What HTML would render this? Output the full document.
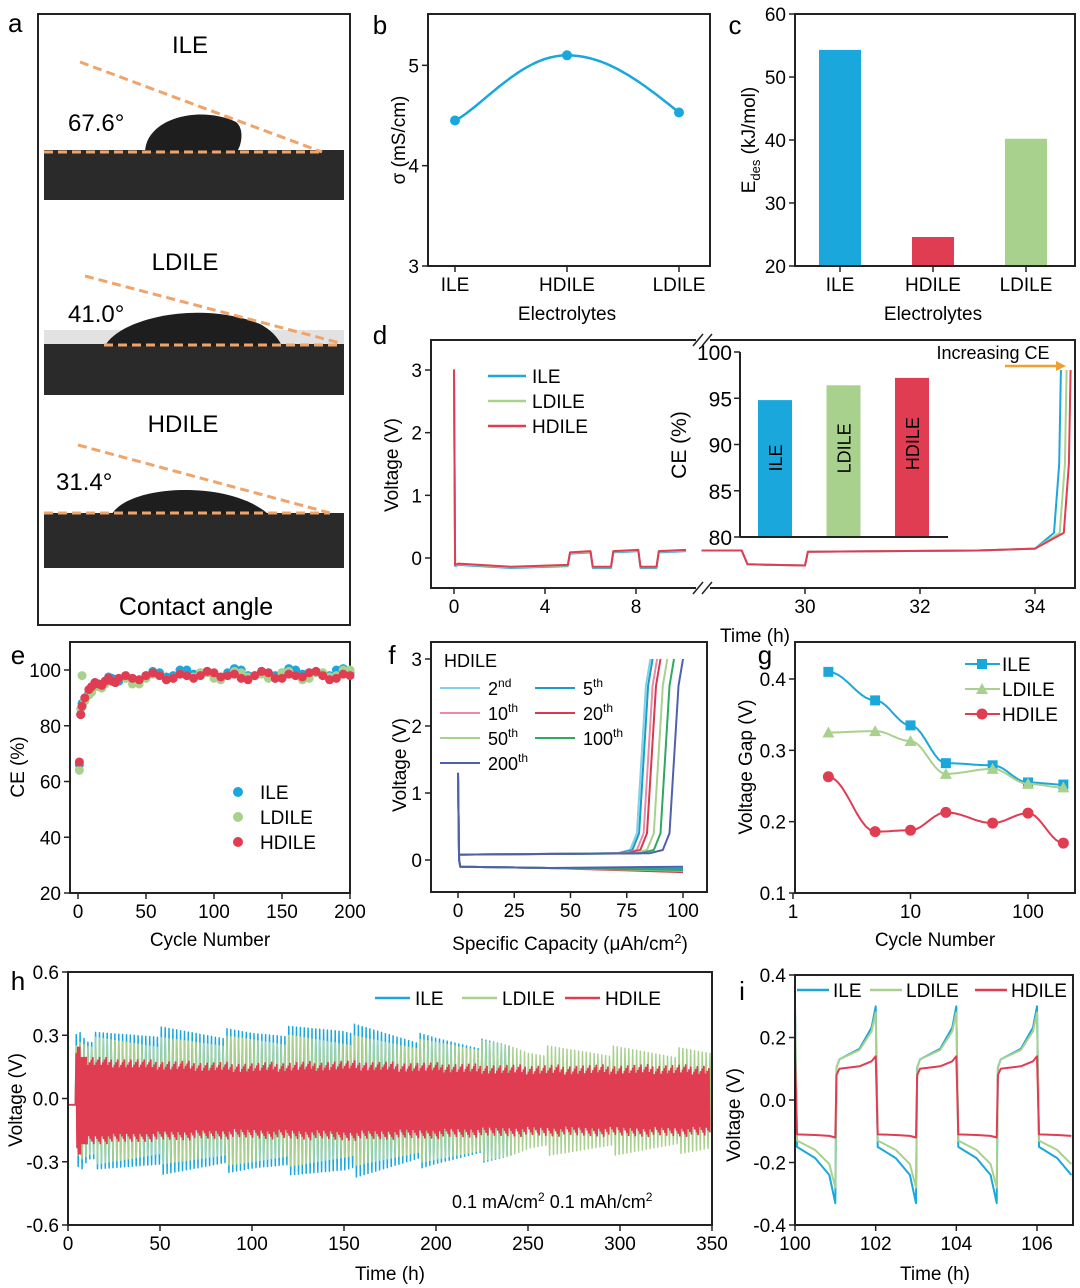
<!DOCTYPE html>
<html><head><meta charset="utf-8"><style>
html,body{margin:0;padding:0;background:#fff}
svg{display:block;font-family:"Liberation Sans",Arial,sans-serif}
</style></head><body>
<svg id="fig" width="1080" height="1288" viewBox="0 0 1080 1288" xmlns="http://www.w3.org/2000/svg">
<rect width="1080" height="1288" fill="#fff"/>
<g>
<text x="8" y="32" font-size="26">a</text>
<rect x="38" y="14" width="312" height="611" fill="none" stroke="#222" stroke-width="2"/>
<text x="190" y="53" font-size="24" text-anchor="middle">ILE</text>
<rect x="44" y="150" width="300" height="50" fill="#2a2a2a"/>
<path d="M145,152 C146,118 200,105 236,122 C246,130 240,150 236,152 Z" fill="#1e1e1e"/>
<line x1="44" y1="152" x2="322" y2="152" stroke="#f0a46a" stroke-width="3" stroke-dasharray="9,5"/>
<line x1="80" y1="62" x2="322" y2="152" stroke="#f0a46a" stroke-width="3" stroke-dasharray="9,5"/>
<text x="68" y="131" font-size="24">67.6°</text>
<text x="185" y="270" font-size="24" text-anchor="middle">LDILE</text>
<rect x="44" y="330" width="300" height="65" fill="#e2e2e2"/>
<rect x="44" y="344" width="300" height="51" fill="#2a2a2a"/>
<path d="M105,346 C120,318 200,300 260,324 C275,332 280,342 282,346 Z" fill="#1e1e1e"/>
<line x1="104" y1="345" x2="340" y2="345" stroke="#f0a46a" stroke-width="3" stroke-dasharray="9,5"/>
<line x1="85" y1="276" x2="340" y2="343" stroke="#f0a46a" stroke-width="3" stroke-dasharray="9,5"/>
<text x="68" y="322" font-size="24">41.0°</text>
<text x="183" y="432" font-size="24" text-anchor="middle">HDILE</text>
<rect x="44" y="513" width="300" height="55" fill="#2a2a2a"/>
<path d="M112,514 C130,484 230,480 268,514 Z" fill="#1e1e1e"/>
<line x1="44" y1="513" x2="330" y2="513" stroke="#f0a46a" stroke-width="3" stroke-dasharray="9,5"/>
<line x1="78" y1="445" x2="330" y2="513" stroke="#f0a46a" stroke-width="3" stroke-dasharray="9,5"/>
<text x="56" y="490" font-size="24">31.4°</text>
<text x="196" y="615" font-size="25" text-anchor="middle">Contact angle</text>
</g>
<g id="plots"></g>
</svg>
<script>
// ---------- data ----------
const bCats=['ILE','HDILE','LDILE'];
const bSigma=[4.45,5.1,4.53];
const cCats=['ILE','HDILE','LDILE'];
const cEdes=[54.3,24.6,40.2];
const dInsetCats=['ILE','LDILE','HDILE'];
const dInsetCE=[94.8,96.4,97.2];
const dLeftT=[0,0.05,0.2,2.5,5.0,5.1,6.0,6.1,6.9,7.0,8.1,8.2,8.9,9.0,10.2];
const dLeftV=[3.0,-0.12,-0.1,-0.15,-0.12,0.08,0.1,-0.15,-0.15,0.1,0.12,-0.15,-0.15,0.1,0.12];
const dRightT=[28.2,28.9,29.0,30.0,30.05,33.0,34.0];
const dRightV=[0.12,0.12,-0.1,-0.12,0.1,0.12,0.15];
const dRiseT=[34.45,34.55,34.62];
const eX=[1,2,3,5,8,10,15,20,25,30,40,50,60,70,80,90,100,110,120,130,140,150,160,170,180,190,200];
const eILE=[66,84,88,90,92,94,95,96,97,96,97,98,99,98,100,99,98,99,100,98,99,99,100,99,98,100,99];
const eLDILE=[64,86,98,89,91,92,94,95,96,97,95,97,98,97,98,99,97,98,99,98,97,99,98,97,99,98,100];
const eHDILE=[67,84,87,90,93,94,95,96,96,97,97,98,98,97,98,98,99,98,97,98,99,97,98,99,98,97,98];
const fLabels=['2nd','5th','10th','20th','50th','100th','200th'];
const fEndCap=[85.5,86.5,88.5,90,93,96,100];
const fDisV=[-0.14,-0.13,-0.15,-0.18,-0.16,-0.15,-0.1];
const gX=[2,5,10,20,50,100,200];
const gILE=[0.41,0.37,0.335,0.282,0.279,0.255,0.252];
const gLDILE=[0.325,0.327,0.313,0.267,0.274,0.253,0.248];
const gHDILE=[0.263,0.186,0.188,0.213,0.198,0.212,0.17];
const hT=[0,5,10,50,100,150,200,240,250,300,350];
const hILEamp=[0.02,0.34,0.28,0.31,0.3,0.33,0.27,0.24,null,null,null];
const hLDILEamp=[0.02,0.28,0.26,0.26,0.27,0.27,0.25,0.24,0.22,0.22,0.21];
const hHDILEamp=[0.02,0.24,0.17,0.15,0.14,0.15,0.14,0.13,0.13,0.13,0.13];
const iNames=['ILE','LDILE','HDILE'];
const iChgPlat=[0.13,0.13,0.1];
const iChgPeak=[0.3,0.28,0.14];
const iDisPlat=[-0.15,-0.13,-0.11];
const iDisPeak=[-0.33,-0.28,-0.12];

const COL={ILE:'#1aa7dc',LDILE:'#a9d18e',HDILE:'#e03c52'};
const NS='http://www.w3.org/2000/svg';
const root=document.getElementById('plots');
function mk(tag,attrs,name,parent){const el=document.createElementNS(NS,tag);for(const k in attrs)el.setAttribute(k,attrs[k]);


(parent||root).appendChild(el);return el;}
function txt(x,y,s,size,anchor,name,extra){const t=mk('text',Object.assign({x:x,y:y,'font-size':size,'text-anchor':anchor||'middle'},extra||{}),name);t.textContent=s;return t;}
function lin(d0,d1,r0,r1){return v=>r0+(v-d0)/(d1-d0)*(r1-r0);}
function box(x0,y0,x1,y1,name){mk('rect',{x:x0,y:y0,width:x1-x0,height:y1-y0,fill:'none',stroke:'#222','stroke-width':2},name);}
function yTicks(vals,ys,x0,name,fmt){vals.forEach(v=>{const y=ys(v);mk('line',{x1:x0,y1:y,x2:x0-6,y2:y,stroke:'#222','stroke-width':1.5},name+'-tick');txt(x0-9,y+7,fmt?fmt(v):String(v),19,'end',name+'-label');});}
function xTicks(vals,xs,y0,name,fmt,labels){vals.forEach((v,i)=>{const x=xs(v);mk('line',{x1:x,y1:y0,x2:x,y2:y0+6,stroke:'#222','stroke-width':1.5},name+'-tick');txt(x,y0+25,labels?labels[i]:(fmt?fmt(v):String(v)),19,'middle',name+'-label');});}
function poly(pts,color,w,name){return mk('polyline',{points:pts.map(p=>p[0].toFixed(1)+','+p[1].toFixed(1)).join(' '),fill:'none',stroke:color,'stroke-width':w,'stroke-linejoin':'round'},name);}
function ylab(x,y,s,name,size){txt(x,y,s,size||19,'middle',name,{transform:`rotate(-90 ${x} ${y})`});}

// ---------- b ----------
txt(380,34,'b',26,'middle','panel-label-b');
{const xs=i=>455+i*112, ys=lin(3,6,266,-35);
box(428,14,710,266,'axes-b');
yTicks([3,4,5],ys,428,'y-tick-b');
xTicks([0,1,2],xs,266,'x-tick-b',null,bCats);
txt(567,320,'Electrolytes',19,'middle','x-axis-title-b');
ylab(405,140,'σ (mS/cm)','y-axis-title-b');
const pts=[];for(let k=0;k<=40;k++){const u=k/20;const i0=Math.min(1,Math.floor(u));const f=u-i0;
const a=bSigma[i0],b=bSigma[i0+1];const m=bSigma[1];
let v;if(u<=1)v=a+(b-a)*Math.sin(f*Math.PI/2)**1.2;else v=m+(bSigma[2]-m)*(1-Math.cos(f*Math.PI/2));
pts.push([xs(u),ys(v)]);}
poly(pts,COL.ILE,2.5,'line-sigma');
bSigma.forEach((v,i)=>mk('circle',{cx:xs(i),cy:ys(v),r:5,fill:COL.ILE},'point-sigma-'+bCats[i].toLowerCase()));}

// ---------- c ----------
txt(735,34,'c',26,'middle','panel-label-c');
{const xs=i=>840+i*93, ys=lin(20,60,266,14);
cEdes.forEach((v,i)=>mk('rect',{x:xs(i)-21,y:ys(v),width:42,height:266-ys(v),fill:COL[cCats[i]]},'bar-edes-'+cCats[i].toLowerCase()));
box(795,14,1075,266,'axes-c');
yTicks([20,30,40,50,60],ys,795,'y-tick-c');
xTicks([0,1,2],xs,266,'x-tick-c',null,cCats);
txt(933,320,'Electrolytes',19,'middle','x-axis-title-c');
const t=txt(755,140,'E',19,'middle','y-axis-title-c',{transform:'rotate(-90 755 140)'});
t.innerHTML='E<tspan font-size="13" dy="5">des</tspan><tspan dy="-5"> (kJ/mol)</tspan>';}

// ---------- d ----------
txt(380,344,'d',26,'middle','panel-label-d');
{const ys=lin(0,3,558,370), xl=lin(0,4,454,545), xr=lin(30,32,805,920);
box(431,340,1075,588,'axes-d');
mk('rect',{x:696,y:334,width:14,height:12,fill:'#fff'},'axis-break-gap-top');
mk('rect',{x:696,y:582,width:14,height:12,fill:'#fff'},'axis-break-gap');
[[693,346,703,334],[702,346,712,334],[693,594,703,582],[702,594,712,582]].forEach(c=>mk('line',{x1:c[0],y1:c[1],x2:c[2],y2:c[3],stroke:'#222','stroke-width':1.5},'axis-break-mark'));
yTicks([0,1,2,3],ys,431,'y-tick-d');
xTicks([0,4,8],xl,588,'x-tick-d');
xTicks([30,32,34],xr,588,'x-tick-d');
txt(755,642,'Time (h)',19,'middle','x-axis-title-d');
ylab(398,465,'Voltage (V)','y-axis-title-d');
const names=['ILE','LDILE','HDILE'];
names.forEach((n,s)=>{const L=dLeftT.map((t,i)=>[xl(t),ys(dLeftV[i]+ (s-1)*0.01)]);poly(L,COL[n],2,'voltage-left-'+n.toLowerCase());
const R=dRightT.map((t,i)=>[xr(t),ys(dRightV[i])]);R.push([xr(dRiseT[s]-0.12),ys(0.4)]);R.push([xr(dRiseT[s]-0.03),ys(1.5)]);R.push([xr(dRiseT[s]),ys(3)]);
poly(R,COL[n],2,'voltage-right-'+n.toLowerCase());});
names.forEach((n,s)=>{const y=376+s*25;mk('line',{x1:488,y1:y,x2:526,y2:y,stroke:COL[n],'stroke-width':2.5},'legend-line-d-'+n.toLowerCase());txt(532,y+7,n,19,'start','legend-label-d-'+n.toLowerCase());});
const yi=lin(80,100,537,352), xi=i=>775+i*68.5;
mk('rect',{x:742,y:345,width:212,height:194,fill:'#fff'},'inset-bg');
dInsetCE.forEach((v,i)=>{mk('rect',{x:xi(i)-17,y:yi(v),width:34,height:537-yi(v),fill:COL[dInsetCats[i]]},'inset-bar-'+dInsetCats[i].toLowerCase());
ylab(xi(i)+7,yi(v)+(537-yi(v))*0.35+10,dInsetCats[i],'inset-bar-label-'+dInsetCats[i].toLowerCase(),18);});
mk('line',{x1:740,y1:352,x2:740,y2:537,stroke:'#222','stroke-width':2},'inset-y-axis');
mk('line',{x1:740,y1:537,x2:948,y2:537,stroke:'#222','stroke-width':2},'inset-x-axis');
[80,85,90,95,100].forEach(v=>{mk('line',{x1:740,y1:yi(v),x2:734,y2:yi(v),stroke:'#222','stroke-width':1.5},'inset-y-tick');txt(732,yi(v)+8,String(v),21,'end','inset-y-tick-label');});
ylab(686,445,'CE (%)','inset-y-axis-title',21);
txt(993,359,'Increasing CE',18,'middle','annotation-increasing-ce');
mk('line',{x1:1005,y1:366,x2:1058,y2:366,stroke:'#f0a030','stroke-width':2.5},'annotation-arrow');
mk('path',{d:'M1056,361 L1066,366 L1056,371 Z',fill:'#f0a030'},'annotation-arrowhead');}

// ---------- e ----------
txt(18,664,'e',26,'middle','panel-label-e');
{const xs=lin(0,200,78,350), ys=lin(20,100,893,670);
box(70,642,350,893,'axes-e');
yTicks([20,40,60,80,100],ys,70,'y-tick-e');
xTicks([0,50,100,150,200],xs,893,'x-tick-e');
txt(210,946,'Cycle Number',19,'middle','x-axis-title-e');
ylab(24,767,'CE (%)','y-axis-title-e');
const sers=[['ILE',eILE],['LDILE',eLDILE],['HDILE',eHDILE]];
sers.forEach(([n,arr])=>{eX.forEach((x,i)=>{mk('circle',{cx:xs(x),cy:ys(arr[i]),r:4.5,fill:COL[n]},'ce-point-'+n.toLowerCase());
if(i>4&&i<eX.length-1){const x2=(x+eX[i+1])/2;mk('circle',{cx:xs(x2),cy:ys((arr[i]+arr[i+1])/2+ (i%2?1:-1)),r:4.5,fill:COL[n]},'ce-point-'+n.toLowerCase());}});});
sers.forEach(([n],s)=>{const y=792+s*25;mk('circle',{cx:238,cy:y,r:5,fill:COL[n]},'legend-marker-e-'+n.toLowerCase());txt(260,y+7,n,19,'start','legend-label-e-'+n.toLowerCase());});}

// ---------- f ----------
txt(392,664,'f',26,'middle','panel-label-f');
{const xs=lin(0,100,458,683), ys=lin(0,3,860,659);
const fc=['#7fd0e8','#1a9cc8','#e88aa8','#d63a4e','#a9d18e','#2fa860','#5060b0'];
box(431,642,707,892,'axes-f');
yTicks([0,1,2,3],ys,431,'y-tick-f');
xTicks([0,25,50,75,100],xs,892,'x-tick-f');
const xt=txt(570,950,'',19,'middle','x-axis-title-f');xt.innerHTML='Specific Capacity (μAh/cm<tspan font-size="13" dy="-7">2</tspan><tspan dy="7">)</tspan>';
ylab(406,765,'Voltage (V)','y-axis-title-f');
fEndCap.forEach((c,i)=>{poly([[xs(0),ys(1.3)],[xs(0.5),ys(0)],[xs(1),ys(-0.1)],[xs(40),ys(-0.12)],[xs(100),ys(fDisV[i])]],fc[i],2,'discharge-curve-'+fLabels[i]);
poly([[xs(0.5),ys(0.08)],[xs(c-15),ys(0.1)],[xs(c-9),ys(0.15)],[xs(c-6),ys(0.4)],[xs(c-4),ys(1.5)],[xs(c-2),ys(2.6)],[xs(c),ys(3)]],fc[i],2,'charge-curve-'+fLabels[i]);});
txt(444,667,'HDILE',18,'start','legend-title-f');
fLabels.forEach((l,i)=>{const col=i%2,row=Math.floor(i/2);const x=440+col*95,y=688+row*25;
mk('line',{x1:x,y1:y,x2:x+40,y2:y,stroke:fc[i],'stroke-width':2},'legend-line-f-'+l);
const t=txt(x+48,y+7,'',18,'start','legend-label-f-'+l);t.innerHTML=l.replace(/(\d+)(\w+)/,'$1<tspan font-size="12" dy="-8">$2</tspan>');});}

// ---------- g ----------
txt(765,664,'g',26,'middle','panel-label-g');
{const xs=v=>793+Math.log10(v)*117.5, ys=lin(0.1,0.4,893,679);
box(795,642,1075,893,'axes-g');
yTicks([0.1,0.2,0.3,0.4],ys,795,'y-tick-g',v=>v.toFixed(1));
xTicks([1,10,100],xs,893,'x-tick-g');
txt(935,946,'Cycle Number',19,'middle','x-axis-title-g');
ylab(752,767,'Voltage Gap (V)','y-axis-title-g');
const sers=[['ILE',gILE,'sq'],['LDILE',gLDILE,'tri'],['HDILE',gHDILE,'ci']];
const cg={ILE:'#1aa7dc',LDILE:'#a9d18e',HDILE:'#e03c52'};
function marker(t,x,y,c,n){if(t==='sq')mk('rect',{x:x-5,y:y-5,width:10,height:10,fill:c},n);else if(t==='tri')mk('path',{d:`M${x},${y-6} L${x+6},${y+5} L${x-6},${y+5} Z`,fill:c},n);else mk('circle',{cx:x,cy:y,r:5.5,fill:c},n);}
sers.forEach(([n,arr,m])=>{const p=[];for(let i=0;i<gX.length-1;i++){for(let k=0;k<10;k++){const f=k/10;const lx=Math.log10(gX[i])+(Math.log10(gX[i+1])-Math.log10(gX[i]))*f;const s=(1-Math.cos(f*Math.PI))/2;p.push([xs(10**lx),ys(arr[i]+(arr[i+1]-arr[i])*s)]);}}p.push([xs(gX[gX.length-1]),ys(arr[arr.length-1])]);
poly(p,cg[n],2,'gap-line-'+n.toLowerCase());gX.forEach((x,i)=>marker(m,xs(x),ys(arr[i]),cg[n],'gap-marker-'+n.toLowerCase()));});
sers.forEach(([n,,m],s)=>{const y=664+s*25;mk('line',{x1:965,y1:y,x2:1000,y2:y,stroke:cg[n],'stroke-width':2},'legend-line-g-'+n.toLowerCase());marker(m,982,y,cg[n],'legend-marker-g-'+n.toLowerCase());txt(1002,y+7,n,19,'start','legend-label-g-'+n.toLowerCase());});}

// ---------- h ----------
txt(18,990,'h',26,'middle','panel-label-h');
{const xs=lin(0,350,68,712), ys=lin(-0.6,0.6,1225,972);
function env(arr,t){for(let i=0;i<hT.length-1;i++){if(t>=hT[i]&&t<=hT[i+1]){if(arr[i]==null||arr[i+1]==null)return null;return arr[i]+(arr[i+1]-arr[i])*(t-hT[i])/(hT[i+1]-hT[i]);}}return null;}
[['ILE',hILEamp,2.1],['LDILE',hLDILEamp,2.1],['HDILE',hHDILEamp,0.9]].forEach(([n,arr,st])=>{const p=[[xs(0),ys(-0.03)],[xs(4),ys(-0.03)]];
for(let t=4.5;t<=349;t+=st){const a=env(arr,t);if(a==null)break;const j=((t*7)%5)/100;p.push([xs(t),ys(a+j-0.02)]);p.push([xs(t+st/2),ys(-a-j)]);}
poly(p,COL[n],n==='HDILE'?1.8:1.5,'voltage-trace-'+n.toLowerCase());});
box(68,972,712,1225,'axes-h');
yTicks([-0.6,-0.3,0,0.3,0.6],ys,68,'y-tick-h',v=>v.toFixed(1));
xTicks([0,50,100,150,200,250,300,350],xs,1225,'x-tick-h');
txt(390,1280,'Time (h)',19,'middle','x-axis-title-h');
ylab(22,1100,'Voltage (V)','y-axis-title-h');
['ILE','LDILE','HDILE'].forEach((n,s)=>{const x=[375,462,565][s];mk('line',{x1:x,y1:998,x2:x+35,y2:998,stroke:COL[n],'stroke-width':2.5},'legend-line-h-'+n.toLowerCase());txt(x+40,1005,n,19,'start','legend-label-h-'+n.toLowerCase());});
const a=txt(452,1208,'',18,'start','annotation-current');a.innerHTML='0.1 mA/cm<tspan font-size="12" dy="-7">2</tspan><tspan dy="7">  0.1 mAh/cm</tspan><tspan font-size="12" dy="-7">2</tspan>';}

// ---------- i ----------
txt(742,1000,'i',26,'middle','panel-label-i');
{const xs=lin(100,106,795,1037), ys=lin(-0.4,0.4,1225,975);
iNames.forEach((n,s)=>{const p=[];for(let c=0;c<4;c++){const t0=100+c*2;
p.push([xs(t0),ys(iChgPeak[s])]);p.push([xs(t0+0.05),ys(iDisPlat[s])]);p.push([xs(t0+0.5),ys(iDisPlat[s]+(iDisPeak[s]-iDisPlat[s])*0.2)]);p.push([xs(t0+0.85),ys(iDisPlat[s]+(iDisPeak[s]-iDisPlat[s])*0.5)]);p.push([xs(t0+1),ys(iDisPeak[s])]);
if(t0+1>=106.5)break;
p.push([xs(t0+1.03),ys(iChgPlat[s]*0.8)]);p.push([xs(t0+1.1),ys(iChgPlat[s])]);p.push([xs(t0+1.6),ys(iChgPlat[s]+(iChgPeak[s]-iChgPlat[s])*0.2)]);p.push([xs(t0+1.9),ys(iChgPlat[s]+(iChgPeak[s]-iChgPlat[s])*0.6)]);p.push([xs(t0+2),ys(iChgPeak[s])]);}
const q=p.filter(pt=>pt[0]<=1074);
poly(q,COL[n],2,'voltage-trace-i-'+n.toLowerCase());});
box(795,975,1073,1225,'axes-i');
yTicks([-0.4,-0.2,0,0.2,0.4],ys,795,'y-tick-i',v=>v.toFixed(1));
xTicks([100,102,104,106],xs,1225,'x-tick-i');
txt(935,1280,'Time (h)',19,'middle','x-axis-title-i');
ylab(740,1115,'Voltage (V)','y-axis-title-i');
['ILE','LDILE','HDILE'].forEach((n,s)=>{const x=[797,870,975][s];mk('line',{x1:x,y1:990,x2:x+32,y2:990,stroke:COL[n],'stroke-width':2.5},'legend-line-i-'+n.toLowerCase());txt(x+36,997,n,19,'start','legend-label-i-'+n.toLowerCase());});}
</script>
</body></html>
